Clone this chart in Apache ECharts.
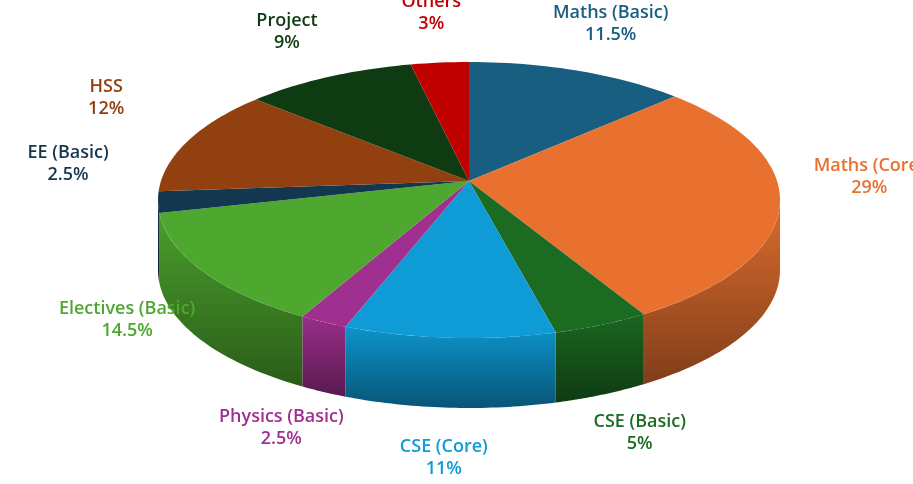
<!DOCTYPE html><html><head><meta charset="utf-8">
<script src="https://cdn.jsdelivr.net/npm/echarts@6/dist/echarts.min.js"></script>
<style>html,body{margin:0;background:#fff}#c{width:913px;height:484px}</style></head><body><div id="c"></div>
<script>
const categories=['Maths (Basic)','Maths (Core)','CSE (Basic)','CSE (Core)','Physics (Basic)','Electives (Basic)','EE (Basic)','HSS','Project','Others'];
const values=[11.5,29,5,11,2.5,14.5,2.5,12,9,3];
const colors=['#175e80','#e87130','#1b6b22','#0e9bd6','#a0308f','#4ea72e','#12374f','#92400f','#0e3b12','#c00000'];
const total=values.reduce((a,b)=>a+b,0);
const starts=[];let acc=0;values.forEach(v=>{starts.push(acc);acc+=v;});
const chart=echarts.init(document.getElementById('c'));
const G={cx:469,cy:200,ax:469,ay:181,rx:311,ry:138,d:70};
function pt(t,dy){return [G.cx+G.rx*Math.sin(t),G.cy-G.ry*Math.cos(t)+(dy||0)];}
function ang(i){return [starts[i]/total*2*Math.PI,(starts[i]+values[i])/total*2*Math.PI];}
function dark(c,f){return echarts.color.lerp(f,[c,'#000000']);}
function sides(params,api){
  const i=params.dataIndex;let [a,b]=ang(i);
  const lo=Math.max(a,Math.PI/2),hi=Math.min(b,1.5*Math.PI);
  if(hi<=lo)return null;
  const top=[],bot=[];const n=40;
  for(let k=0;k<=n;k++){const t=lo+(hi-lo)*k/n;top.push(pt(t));bot.push(pt(t,G.d));}
  const c=colors[i];
  return {type:'polygon',shape:{points:top.concat(bot.reverse())},style:{fill:new echarts.graphic.LinearGradient(0,0,0,1,[
    {offset:0,color:dark(c,0.05)},{offset:1,color:dark(c,0.45)}]),stroke:null}};
}
function tops(params,api){
  const i=params.dataIndex;const [a,b]=ang(i);
  const pts=[[G.ax,G.ay]];const n=Math.max(4,Math.ceil((b-a)*40));
  for(let k=0;k<=n;k++)pts.push(pt(a+(b-a)*k/n));
  const m=(a+b)/2,s=Math.sin(m),c=Math.cos(m);
  let lx=G.cx+(G.rx+90)*s,ly=G.cy-(G.ry+50)*c+G.d*Math.max(0,-c)-40*Math.pow(Math.abs(s),6);
  return {type:'group',children:[
    {type:'polygon',shape:{points:pts},style:{fill:colors[i],stroke:null}},
    {type:'text',x:lx,y:ly,style:{text:categories[i]+'\n'+values[i]+'%',fill:colors[i],font:'600 18px "Open Sans"',align:'center',verticalAlign:'middle',lineHeight:22}}
  ]};
}
const data=values.map((v,i)=>[i,v]);
chart.setOption({animation:false,xAxis:{show:false},yAxis:{show:false},
series:[{type:'custom',renderItem:sides,data:data,z:1},{type:'custom',renderItem:tops,data:data,z:2}]});
</script></body></html>
